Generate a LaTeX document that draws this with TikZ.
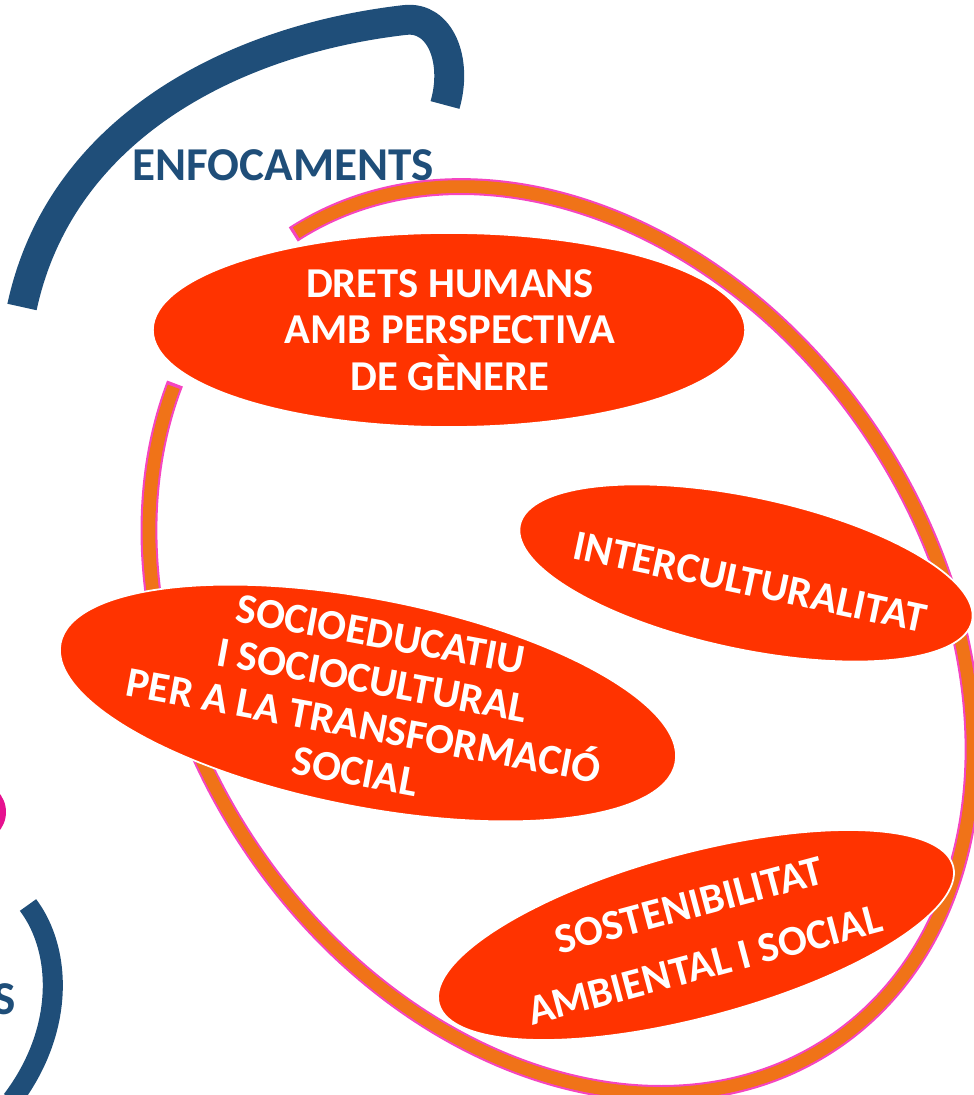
\documentclass[tikz,border=0pt]{standalone}
\usepackage{fontspec}
\setmainfont{Carlito}
\usetikzlibrary{shapes.geometric}
\definecolor{enfblue}{HTML}{1F4E79}
\definecolor{ringorange}{HTML}{F07318}
\definecolor{ringpink}{HTML}{F545C0}
\definecolor{blobred}{HTML}{FF3300}
\definecolor{dotpink}{HTML}{E6118F}
\begin{document}
\begin{tikzpicture}
  [x=0.01cm,y=0.01cm,
   blob/.style={ellipse,fill=blobred,draw=white,line width=.5pt,inner sep=0pt},
   lbl/.style={text=white,font=\bfseries\fontsize{12.1}{13.2}\selectfont,align=center,inner sep=0pt},
   title/.style={text=enfblue,font=\bfseries\fontsize{13.4}{15}\selectfont,inner sep=0pt}]
  \useasboundingbox (0,0) rectangle (974,-1095);
  \clip (0,0) rectangle (974,-1095);
  % pieces of the outer cycle
  \draw[enfblue,line width=8.5pt] (22,-307) .. controls (60,-130) and (230,-40) .. (405,-20) .. controls (440,-16) and (458,-60) .. (445,-105);
  \draw[enfblue,line width=5.7pt] (28,-905) .. controls (62,-950) and (65,-1030) .. (12,-1100);
  \fill[dotpink] (-24,-812) circle (30);
  \node[title] (enf) at (283,-165) {ENFOCAMENTS};
  \node[title,anchor=east] (sfrag) at (16,-999) {S};
  % ring
  \begin{scope}[shift={(561,-640)},rotate=34.2]
    \draw[ringpink,line width=4.8pt] (89:373 and 486) arc[start angle=89,end angle=-242,x radius=373,y radius=486];
    \draw[ringorange,line width=3.6pt] (88.5:373 and 486) arc[start angle=88.5,end angle=-241.5,x radius=373,y radius=486];
  \end{scope}
  % blobs
  \node[blob,minimum width=5.92cm,minimum height=1.94cm] (drets) at (449,-330) {};
  \node[blob,minimum width=4.62cm,minimum height=1.52cm,rotate=-12] (inter) at (746,-573) {};
  \node[blob,minimum width=6.26cm,minimum height=2.08cm,rotate=-11] (socio) at (368,-703) {};
  \node[blob,minimum width=5.32cm,minimum height=1.64cm,rotate=15] (soste) at (696,-935) {};
  \node[lbl] (dretsTxt) at (450,-330) {DRETS HUMANS\\AMB PERSPECTIVA\\DE GÈNERE};
  \node[lbl,rotate=-12] (interTxt) at (750,-582) {INTERCULTURALITAT};
  \node[lbl,rotate=-10.5] (socioTxt) at (368,-703) {SOCIOEDUCATIU\\I SOCIOCULTURAL\\PER A LA TRANSFORMACIÓ\\SOCIAL};
  \node[lbl,rotate=15,font=\bfseries\fontsize{12.1}{17.6}\selectfont] (sosteTxt) at (697,-935) {SOSTENIBILITAT\\AMBIENTAL I SOCIAL};
\end{tikzpicture}
\end{document}
